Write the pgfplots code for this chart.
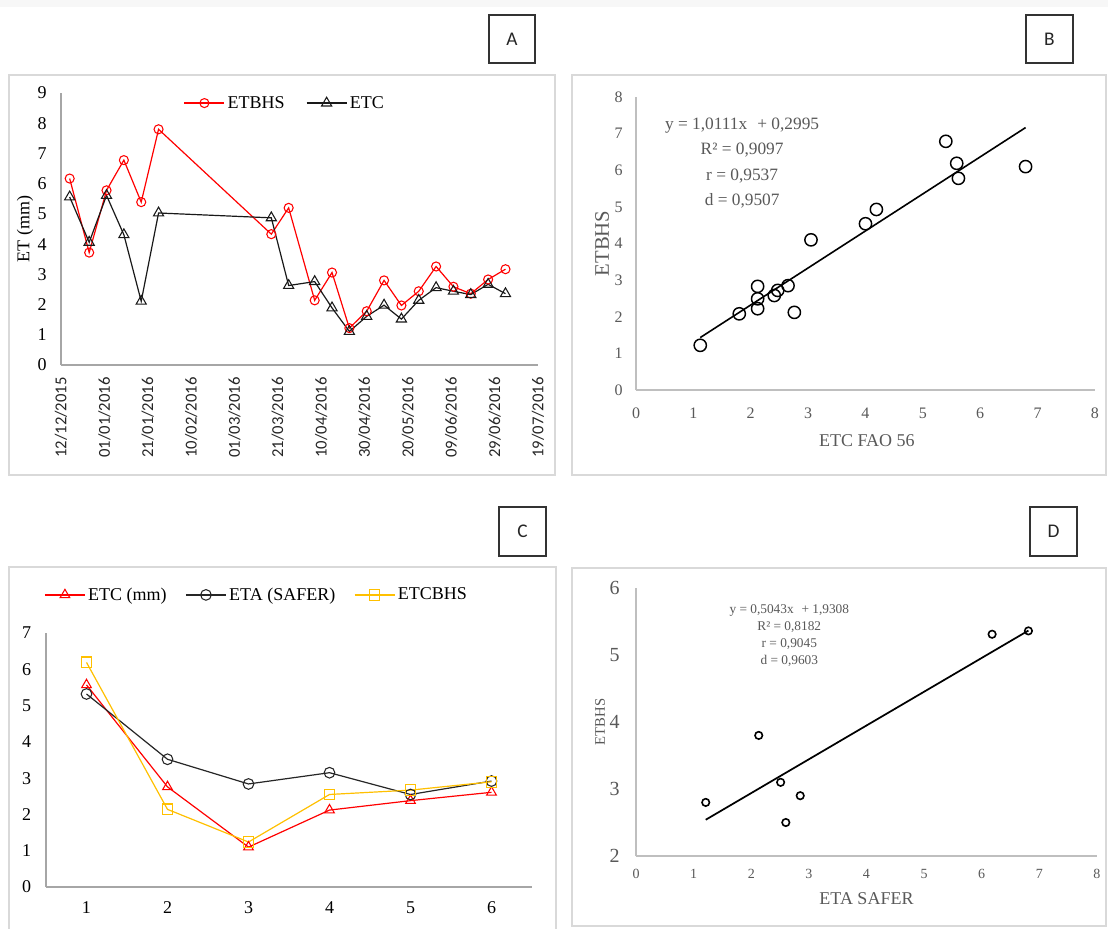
\documentclass[border=0pt]{standalone}
\usepackage{pgfplots}
\pgfplotsset{compat=1.18}
\usepackage{fontspec}
\setmainfont{Liberation Serif}
\newfontfamily\calibri{Carlito}

\definecolor{framegray}{HTML}{D9D9D9}
\definecolor{axisgray}{HTML}{A6A6A6}
\definecolor{lightaxis}{HTML}{BFBFBF}
\definecolor{textgray}{HTML}{595959}
\definecolor{etred}{HTML}{FF0000}
\definecolor{etyellow}{HTML}{FFC000}

\newcommand{\fs}[2]{\fontsize{#1pt}{#2pt}\selectfont}

\pgfplotsset{
  base/.style={
    scale only axis, anchor=south west, clip=false,
    axis x line*=bottom, axis y line*=left,
    axis line style={-, draw=axisgray, line width=0.9pt},
    major tick length=0pt,
    /pgf/number format/assume math mode=true,
  },
  lineleg/.style={
    legend image code/.code={%
      \draw[mark repeat=2, mark phase=2]
        plot coordinates {(0pt,0pt) (15pt,0pt) (30pt,0pt)};}
  },
}

\begin{document}
\begin{tikzpicture}
% ---- page, panel frames and panel letters (pixel grid) ----
\begin{scope}[x=0.75pt, y=-0.75pt]
  \useasboundingbox (0,0) rectangle (1108,929);
  \fill[white] (0,0) rectangle (1108,929);
  \fill[black!3] (0,0) rectangle (1108,7);
  \draw[framegray, line width=1.1pt] (9,75) rectangle (555,475);
  \draw[framegray, line width=1.1pt] (572,75) rectangle (1106,475);
  \draw[framegray, line width=1.1pt] (9,567) rectangle (556,940);
  \draw[framegray, line width=1.1pt] (572,568) rectangle (1106,926);
  \begin{scope}[line width=1.1pt, draw=black!80]
    \draw (489,15) rectangle (535,63);
    \draw (1026,15) rectangle (1073,63);
    \draw (499,507) rectangle (546,556);
    \draw (1030,507) rectangle (1077,556);
  \end{scope}
  \node[font=\calibri\fs{14.5}{17}, text=black!85] at (512,39) {A};
  \node[font=\calibri\fs{14.5}{17}, text=black!85] at (1049.5,39) {B};
  \node[font=\calibri\fs{14.5}{17}, text=black!85] at (522.5,531.5) {C};
  \node[font=\calibri\fs{14.5}{17}, text=black!85] at (1053.5,531.5) {D};
\end{scope}

% ---- A: daily ET series (days counted from 12/12/2015) ----
\begin{axis}[base, lineleg,
  at={(45.75pt,-273.75pt)}, width=357.75pt, height=204pt,
  xmin=0, xmax=220, ymin=0, ymax=9,
  xtick={0,20,...,220}, ytick={0,1,...,9},
  xticklabels={12/12/2015,01/01/2016,21/01/2016,10/02/2016,01/03/2016,21/03/2016,
    10/04/2016,30/04/2016,20/05/2016,09/06/2016,29/06/2016,19/07/2016},
  xticklabel style={rotate=90, anchor=east, inner sep=0pt,
    font=\calibri\fs{12.5}{15}, text=black!85},
  xticklabel shift=9pt,
  yticklabel style={anchor=east, inner sep=0pt, font=\fs{13.5}{16}},
  yticklabel shift=10.5pt,
  ylabel={ET (mm)},
  ylabel style={at={(axis description cs:-0.0755,0.5)}, anchor=center,
    font=\fs{13.5}{16}},
  legend columns=2,
  legend style={at={(0.47,0.963)}, anchor=center, draw=none, fill=none,
    font=\fs{13.5}{16}, inner sep=0pt,
    /tikz/every even column/.append style={column sep=14pt}},
]
\addplot[etred, line width=0.9pt, mark=o, mark size=3.4pt,
  mark options={solid, line width=0.8pt}] coordinates {
  (4,6.17) (13,3.72) (21,5.78) (29,6.78) (37,5.39) (45,7.80)
  (97,4.33) (105,5.20) (117,2.14) (125,3.06) (133,1.22) (141,1.78)
  (149,2.80) (157,1.97) (165,2.44) (173,3.26) (181,2.59) (189,2.36)
  (197,2.83) (205,3.17)};
\addlegendentry{ETBHS}
\addplot[black!90, line width=0.9pt, mark=triangle, mark size=4.4pt,
  mark options={solid, line width=0.8pt}] coordinates {
  (4,5.56) (13,4.06) (21,5.61) (29,4.31) (37,2.11) (45,5.03)
  (97,4.87) (105,2.63) (117,2.76) (125,1.89) (133,1.11) (141,1.61)
  (149,1.98) (157,1.52) (165,2.14) (173,2.56) (181,2.44) (189,2.33)
  (197,2.67) (205,2.36)};
\addlegendentry{ETC}
\end{axis}

% ---- B: ETBHS against ETC FAO 56 ----
\begin{axis}[base,
  at={(477pt,-292.5pt)}, width=344.25pt, height=219.75pt,
  axis line style={-, draw=lightaxis, line width=0.9pt},
  xmin=0, xmax=8, ymin=0, ymax=8,
  xtick={0,1,...,8}, ytick={0,1,...,8},
  tick label style={font=\fs{12}{14}, text=textgray, inner sep=0pt},
  xticklabel style={anchor=north}, xticklabel shift=13pt,
  yticklabel style={anchor=east}, yticklabel shift=9.75pt,
  xlabel={ETC FAO 56}, ylabel={ETBHS},
  xlabel style={at={(axis description cs:0.503,-0.174)}, anchor=center,
    font=\fs{13.5}{16}, text=textgray},
  ylabel style={at={(axis description cs:-0.074,0.5)}, anchor=center,
    font=\fs{15.5}{18}, text=textgray},
]
\addplot[only marks, mark=o, mark size=4.6pt,
  mark options={black, line width=1.1pt}] coordinates {
  (1.12,1.22) (1.80,2.08) (2.12,2.83) (2.12,2.49) (2.12,2.22) (2.41,2.58)
  (2.47,2.72) (2.65,2.85) (2.76,2.12) (3.05,4.10) (4.00,4.54) (4.19,4.93)
  (5.40,6.79) (5.59,6.19) (5.62,5.78) (6.79,6.10)};
% fitted line y = 1.0111x + 0.2995
\addplot[black, line width=1.2pt] coordinates {(1.12,1.432) (6.79,7.165)};
\node[align=center, text=textgray, font=\fs{13}{19}] at (axis cs:1.85,6.20)
  {y = 1,0111x\,\, + 0,2995\\ R² = 0,9097\\ r = 0,9537\\ d = 0,9507};
\end{axis}

% ---- C: mean ET by stage ----
\begin{axis}[base, lineleg,
  at={(34.5pt,-665.25pt)}, width=364.5pt, height=190.5pt,
  xmin=0.5, xmax=6.5, ymin=0, ymax=7,
  xtick={1,...,6}, ytick={0,1,...,7},
  tick label style={font=\fs{13.5}{16}, inner sep=0pt},
  xticklabel style={anchor=north}, xticklabel shift=11pt,
  yticklabel style={anchor=east}, yticklabel shift=11pt,
  legend columns=3,
  legend style={at={(0.434,1.15)}, anchor=center, draw=none, fill=none,
    font=\fs{13.5}{16}, inner sep=0pt,
    /tikz/every even column/.append style={column sep=12pt}},
]
\addplot[etred, line width=0.9pt, mark=triangle, mark size=4.2pt,
  mark options={solid, line width=0.8pt}] coordinates {
  (1,5.57) (2,2.76) (3,1.10) (4,2.12) (5,2.38) (6,2.61)};
\addlegendentry{ETC (mm)}
\addplot[black!85, line width=0.9pt, mark=o, mark size=4pt,
  mark options={solid, line width=0.8pt}] coordinates {
  (1,5.32) (2,3.52) (3,2.84) (4,3.15) (5,2.55) (6,2.92)};
\addlegendentry{ETA (SAFER)}
\addplot[etyellow, line width=0.9pt, mark=square, mark size=4pt,
  mark options={solid, line width=0.9pt, draw=etyellow}] coordinates {
  (1,6.19) (2,2.14) (3,1.24) (4,2.55) (5,2.67) (6,2.90)};
\addlegendentry{ETCBHS}
\end{axis}

% ---- D: ETBHS against ETA SAFER ----
\begin{axis}[base,
  at={(477pt,-642pt)}, width=345.75pt, height=201pt,
  axis line style={-, draw=lightaxis, line width=0.9pt},
  xmin=0, xmax=8, ymin=2, ymax=6,
  xtick={0,1,...,8}, ytick={2,3,...,6},
  tick label style={text=textgray, inner sep=0pt},
  xticklabel style={anchor=north, font=\fs{10.5}{12}}, xticklabel shift=10pt,
  yticklabel style={anchor=east, font=\fs{15}{18}}, yticklabel shift=12pt,
  xlabel={ETA SAFER}, ylabel={ETBHS},
  xlabel style={at={(axis description cs:0.5,-0.16)}, anchor=center,
    font=\fs{13.5}{16}, text=textgray},
  ylabel style={at={(axis description cs:-0.078,0.5)}, anchor=center,
    font=\fs{11}{13}, text=textgray},
]
\addplot[only marks, mark=o, mark size=2.8pt,
  mark options={black, line width=1.2pt}] coordinates {
  (1.21,2.80) (2.13,3.80) (2.51,3.10) (2.60,2.50) (2.85,2.90)
  (6.18,5.31) (6.81,5.36)};
% fitted line y = 0.5043x + 1.9308
\addplot[black, line width=1.3pt] coordinates {(1.21,2.541) (6.81,5.365)};
\node[align=center, text=textgray, font=\fs{10}{12.75}] at (axis cs:2.66,5.29)
  {y = 0,5043x\,\, + 1,9308\\ R² = 0,8182\\ r = 0,9045\\ d = 0,9603};
\end{axis}
\end{tikzpicture}
\end{document}
